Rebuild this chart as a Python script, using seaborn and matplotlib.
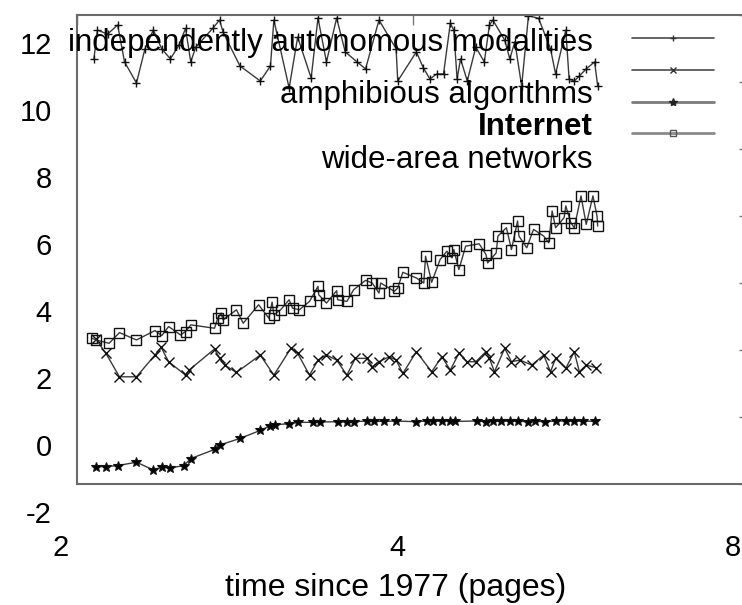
import numpy as np
import pandas as pd
import matplotlib
matplotlib.use("Agg")
import matplotlib.pyplot as plt
import matplotlib.transforms as mtransforms
from matplotlib.lines import Line2D
from matplotlib.ticker import NullLocator
import seaborn as sns

# ---------------- data ----------------
series_names = ["independently autonomous modalities", "amphibious algorithms",
                "Internet", "wide-area networks"]

x_mod = [2.071, 2.086, 2.130, 2.175, 2.206, 2.261, 2.301, 2.341, 2.382, 2.425,
         2.467, 2.502, 2.529, 2.555, 2.646, 2.684, 2.703, 2.799, 2.919, 2.981,
         3.002, 3.023, 3.098, 3.153, 3.242, 3.288, 3.346, 3.417, 3.478, 3.564,
         3.627, 3.729, 3.863, 3.876, 4.028, 4.085, 4.142, 4.201, 4.260, 4.320,
         4.351, 4.381, 4.412, 4.474, 4.553, 4.634, 4.683, 4.716, 4.833, 4.884,
         4.935, 5.005, 5.076, 5.183, 5.312, 5.368, 5.482, 5.520, 5.579, 5.638,
         5.718, 5.818, 5.855]
y_mod = [10.69, 11.55, 11.43, 11.70, 10.60, 9.97, 10.99, 11.55, 10.99, 10.69,
         11.09, 11.60, 10.60, 11.04, 11.60, 11.85, 11.49, 10.48, 10.03, 10.48,
         11.85, 11.40, 9.82, 11.34, 10.12, 11.91, 10.60, 11.91, 10.90, 10.60,
         10.39, 11.85, 10.99, 10.03, 10.90, 10.43, 10.09, 10.24, 10.24, 11.75,
         11.55, 10.09, 10.69, 10.03, 11.04, 10.60, 11.70, 11.85, 11.25, 10.69,
         11.20, 9.88, 11.98, 11.90, 10.99, 10.24, 11.55, 10.09, 10.03, 10.18,
         10.39, 10.60, 9.88]

x_amph = [2.079, 2.123, 2.183, 2.261, 2.349, 2.379, 2.416, 2.502, 2.520, 2.656,
          2.684, 2.712, 2.779, 2.919, 3.002, 3.109, 3.153, 3.231, 3.288, 3.346,
          3.417, 3.490, 3.551, 3.639, 3.677, 3.729, 3.808, 3.863, 3.917, 4.028,
          4.157, 4.245, 4.320, 4.397, 4.474, 4.553, 4.650, 4.683, 4.732, 4.833,
          4.901, 4.987, 5.111, 5.238, 5.312, 5.368, 5.482, 5.579, 5.638, 5.718,
          5.839]
y_amph = [2.33, 1.90, 1.20, 1.20, 1.85, 2.08, 1.65, 1.25, 1.40, 2.03,
          1.75, 1.55, 1.33, 1.85, 1.25, 2.05, 1.90, 1.25, 1.70, 1.85,
          1.70, 1.25, 1.75, 1.75, 1.50, 1.65, 1.80, 1.70, 1.30, 1.95,
          1.35, 1.80, 1.40, 1.90, 1.65, 1.65, 1.95, 1.75, 1.35, 2.05,
          1.65, 1.70, 1.55, 1.85, 1.35, 1.75, 1.45, 1.95, 1.35, 1.55,
          1.47]

x_inet = [2.079, 2.123, 2.175, 2.261, 2.341, 2.382, 2.425, 2.493, 2.529, 2.656,
          2.684, 2.799, 2.919, 2.981, 3.012, 3.098, 3.153, 3.254, 3.299, 3.429,
          3.490, 3.539, 3.639, 3.691, 3.769, 3.863, 4.028, 4.114, 4.172, 4.245,
          4.320, 4.366, 4.569, 4.650, 4.716, 4.799, 4.884, 4.970, 5.076, 5.147,
          5.256, 5.368, 5.482, 5.579, 5.678, 5.818]
y_inet = [-1.48, -1.48, -1.45, -1.35, -1.58, -1.50, -1.52, -1.45, -1.24, -0.97,
          -0.84, -0.64, -0.40, -0.26, -0.23, -0.20, -0.16, -0.16, -0.15, -0.14,
          -0.15, -0.14, -0.12, -0.13, -0.13, -0.12, -0.14, -0.12, -0.13, -0.12,
          -0.12, -0.13, -0.12, -0.14, -0.12, -0.13, -0.12, -0.13, -0.14, -0.13,
          -0.14, -0.12, -0.12, -0.13, -0.12, -0.13]

x_wide = [2.064, 2.079, 2.137, 2.183, 2.261, 2.349, 2.382, 2.416, 2.476, 2.502,
          2.529, 2.656, 2.674, 2.693, 2.703, 2.779, 2.818, 2.909, 2.971, 2.991,
          3.002, 3.044, 3.098, 3.120, 3.164, 3.231, 3.288, 3.293, 3.346, 3.417,
          3.424, 3.490, 3.539, 3.627, 3.677, 3.729, 3.742, 3.849, 3.876, 3.917,
          4.028, 4.090, 4.105, 4.157, 4.230, 4.290, 4.336, 4.351, 4.397, 4.459,
          4.585, 4.650, 4.666, 4.749, 4.766, 4.850, 4.901, 4.963, 4.977, 5.058,
          5.129, 5.238, 5.293, 5.330, 5.368, 5.463, 5.482, 5.540, 5.579, 5.657,
          5.718, 5.798, 5.847, 5.855]
y_wide = [2.35, 2.30, 2.20, 2.52, 2.30, 2.58, 2.43, 2.70, 2.45, 2.55,
          2.75, 2.65, 2.95, 3.10, 2.90, 3.20, 2.80, 3.35, 2.95, 3.43,
          3.05, 3.20, 3.50, 3.25, 3.20, 3.45, 3.90, 3.65, 3.40, 3.77,
          3.50, 3.45, 3.80, 4.08, 4.00, 3.70, 4.00, 3.75, 3.85, 4.32,
          4.15, 4.00, 4.80, 4.02, 4.70, 4.95, 4.75, 5.00, 4.40, 5.10,
          5.17, 4.85, 4.60, 4.90, 5.40, 5.65, 5.00, 5.85, 5.40, 5.05,
          5.60, 5.40, 5.20, 6.15, 5.65, 5.95, 6.30, 5.80, 5.65, 6.60,
          5.75, 6.60, 6.00, 5.70]

x_ticks = [2, 4, 8]
x_tick_labels = ["2", "4", "8"]
y_ticks = [-2, 0, 2, 4, 6, 8, 10, 12]
y_tick_labels = ["-2", "0", "2", "4", "6", "8", "10", "12"]
x_label = "time since 1977 (pages)"

# ---------------- style ----------------
sns.set_theme(style="white")
plt.rcParams["font.family"] = ["Liberation Sans", "DejaVu Sans"]

W, H = 742, 605
fig = plt.figure(figsize=(W / 100, H / 100), dpi=100)
ax = fig.add_axes([77 / W, (H - 484) / H, (749 - 77) / W, (484 - 15) / H])

frames = []
for name, xs, ys in zip(series_names, [x_mod, x_amph, x_inet, x_wide],
                        [y_mod, y_amph, y_inet, y_wide]):
    frames.append(pd.DataFrame({"x": xs, "y": ys, "series": name}))
df = pd.concat(frames, ignore_index=True)

marker_styles = {
    "independently autonomous modalities": dict(marker="+", markersize=6, markerfacecolor="none", markeredgewidth=1.0),
    "amphibious algorithms": dict(marker="x", markersize=6.5, markerfacecolor="none", markeredgewidth=1.0),
    "Internet": dict(marker="*", markersize=7, markerfacecolor="black", markeredgewidth=0.8),
    "wide-area networks": dict(marker="s", markersize=7, markerfacecolor="none", markeredgewidth=1.0),
}

for name in series_names:
    sub = df[df["series"] == name]
    sns.lineplot(data=sub, x="x", y="y", ax=ax, estimator=None, sort=False,
                 color="#3a3a3a", linewidth=1.0, markeredgecolor="#111111",
                 legend=False, **marker_styles[name])

ax.set_xscale("log", base=2)
ax.set_xlim(2, 8)
ax.set_ylim(-2, 12)
ax.set_xticks(x_ticks)
ax.set_xticklabels(x_tick_labels)
ax.xaxis.set_minor_locator(NullLocator())
ax.set_yticks(y_ticks)
ax.set_yticklabels(y_tick_labels)

for sp in ax.spines.values():
    sp.set_color("#6a6a6a")
    sp.set_linewidth(1.5)

ax.tick_params(axis="both", which="major", direction="in", length=7, width=1,
               color="#777777", top=True, right=True, labelsize=21,
               labelcolor="black")
ax.tick_params(axis="y", pad=18)
ax.tick_params(axis="x", pad=36)

yoff = mtransforms.ScaledTranslation(0, -28 / 100, fig.dpi_scale_trans)
for lab in ax.get_yticklabels():
    lab.set_transform(lab.get_transform() + yoff)
xoff = mtransforms.ScaledTranslation(-16 / 100, 0, fig.dpi_scale_trans)
for lab in ax.get_xticklabels():
    lab.set_transform(lab.get_transform() + xoff)

ax.set_xlabel(x_label, fontsize=23, color="black")
ax.set_ylabel("")
ax.xaxis.set_label_coords((395.5 - 77) / 672, (484 - 588) / 469)
ax.xaxis.label.set_va("center")

# legend keys
handles = [
    Line2D([], [], color="#4a4a4a", lw=1.2, marker="+", markersize=5, markeredgecolor="#333333"),
    Line2D([], [], color="#4a4a4a", lw=1.2, marker="x", markersize=5, markeredgecolor="#333333"),
    Line2D([], [], color="#7a7a7a", lw=2.0, marker="*", markersize=6, markerfacecolor="#222222", markeredgecolor="#222222"),
    Line2D([], [], color="#8a8a8a", lw=2.0, marker="s", markersize=5, markerfacecolor="none", markeredgecolor="#555555"),
]
leg = ax.legend(handles, [""] * 4, loc="upper left",
                bbox_to_anchor=(632 / W, 1 - 30 / H), bbox_transform=fig.transFigure,
                frameon=False, fontsize=16, handlelength=82 / 22.2,
                handletextpad=0, borderpad=0, borderaxespad=0, labelspacing=0.48)

label_y = [43, 95, 127, 160]
label_weight = ["normal", "normal", "bold", "normal"]
for name, yy, fw in zip(series_names, label_y, label_weight):
    fig.text(593 / W, 1 - yy / H, name, ha="right", va="center", fontsize=22.5,
             fontweight=fw, color="black")

fig.savefig("out.png", dpi=100)
